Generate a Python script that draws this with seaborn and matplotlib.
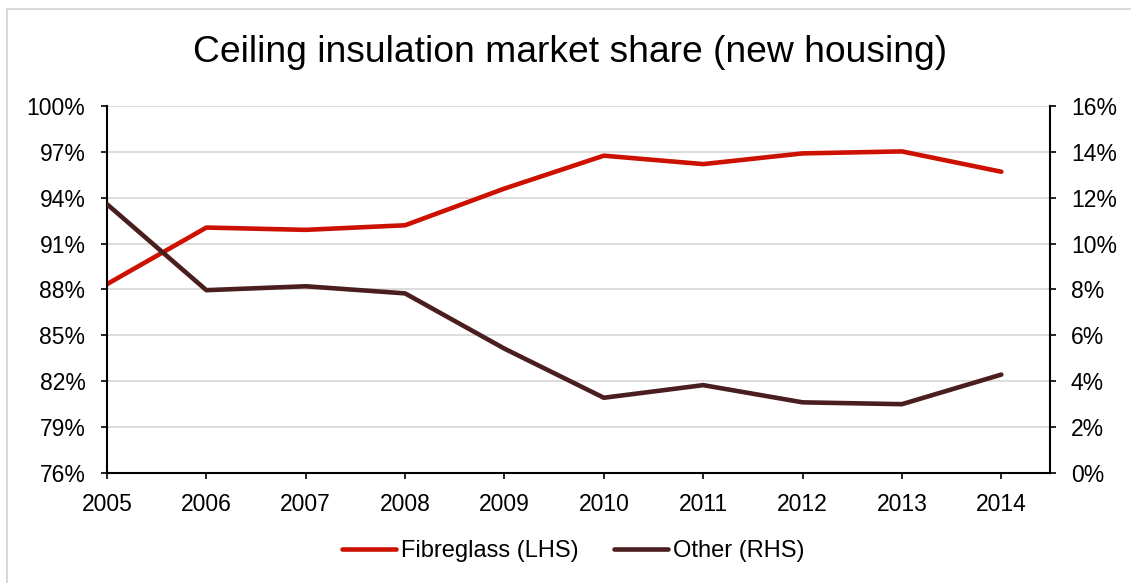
import seaborn as sns
import matplotlib.pyplot as plt
from matplotlib.lines import Line2D
from matplotlib.ticker import FuncFormatter

years = [2005, 2006, 2007, 2008, 2009, 2010, 2011, 2012, 2013, 2014]
fibreglass = [88.35, 92.05, 91.9, 92.2, 94.6, 96.75, 96.2, 96.9, 97.03, 95.7]
other = [11.72, 7.97, 8.14, 7.83, 5.42, 3.28, 3.83, 3.08, 3.0, 4.29]
left_ticks = [76, 79, 82, 85, 88, 91, 94, 97, 100]
right_ticks = [0, 2, 4, 6, 8, 10, 12, 14, 16]

red = '#CC1100'
brown = '#4A1E1E'
grid_col = '#D9D9D9'

sns.set_style('white')
plt.rcParams['font.family'] = ['Liberation Sans', 'DejaVu Sans']
plt.rcParams['text.color'] = 'black'
plt.rcParams['xtick.color'] = 'black'
plt.rcParams['ytick.color'] = 'black'

fig = plt.figure(figsize=(11.31, 5.83), dpi=100)
ax = fig.add_axes([0.0946, 0.1887, 0.8338, 0.6295])
ax2 = ax.twinx()

sns.lineplot(x=years, y=fibreglass, ax=ax, color=red, lw=3.3,
             label='Fibreglass (LHS)', legend=False,
             solid_capstyle='round', solid_joinstyle='round')
sns.lineplot(x=years, y=other, ax=ax2, color=brown, lw=3.3,
             label='Other (RHS)', legend=False,
             solid_capstyle='round', solid_joinstyle='round')

ax.set_xlim(2005, 2014.49)
ax.set_ylim(76, 100)
ax2.set_ylim(0, 16)
ax.set_xticks(years)
ax.set_yticks(left_ticks)
ax2.set_yticks(right_ticks)
ax.yaxis.set_major_formatter(FuncFormatter(lambda v, p: f'{v:.0f}%'))
ax2.yaxis.set_major_formatter(FuncFormatter(lambda v, p: f'{v:.0f}%'))
ax.set_xlabel('')
ax.set_ylabel('')
ax2.set_ylabel('')

ax.grid(axis='y', color=grid_col, lw=1.3)
ax.grid(axis='x', visible=False)
ax2.grid(False)
ax.set_axisbelow(True)

for a in (ax, ax2):
    for side in a.spines:
        a.spines[side].set_visible(False)
ax.spines['left'].set_visible(True)
ax.spines['bottom'].set_visible(True)
ax2.spines['right'].set_visible(True)
for s in (ax.spines['left'], ax.spines['bottom'], ax2.spines['right']):
    s.set_color('black')
    s.set_linewidth(1.5)

ax.tick_params(axis='y', direction='out', length=4.5, width=1.2, color='black',
               left=True, labelsize=16.5, pad=11, labelcolor='black')
ax.tick_params(axis='x', direction='out', length=4.5, width=1.2, color='black',
               bottom=True, labelsize=16.5, pad=10, labelcolor='black')
ax2.tick_params(axis='y', direction='out', length=4.5, width=1.2, color='black',
                right=True, labelsize=16.5, pad=10.5, labelcolor='black')

fig.text(0.504, 0.91, 'Ceiling insulation market share (new housing)',
         ha='center', va='center', fontsize=26.8, color='black')

h1, l1 = ax.get_legend_handles_labels()
h2, l2 = ax2.get_legend_handles_labels()
fig.legend(h1 + h2, l1 + l2, loc='center', bbox_to_anchor=(0.507, 0.055),
           ncol=2, frameon=False, fontsize=17, handlelength=2.3,
           handletextpad=0.2, columnspacing=1.5, labelcolor='black')

# light frame around the chart
fig.add_artist(Line2D([0.0062, 0.0062], [0, 0.9846], transform=fig.transFigure,
                      color=grid_col, lw=1.5))
fig.add_artist(Line2D([0.0062, 1], [0.9846, 0.9846], transform=fig.transFigure,
                      color=grid_col, lw=1.5))

fig.savefig('out.png', dpi=100)
